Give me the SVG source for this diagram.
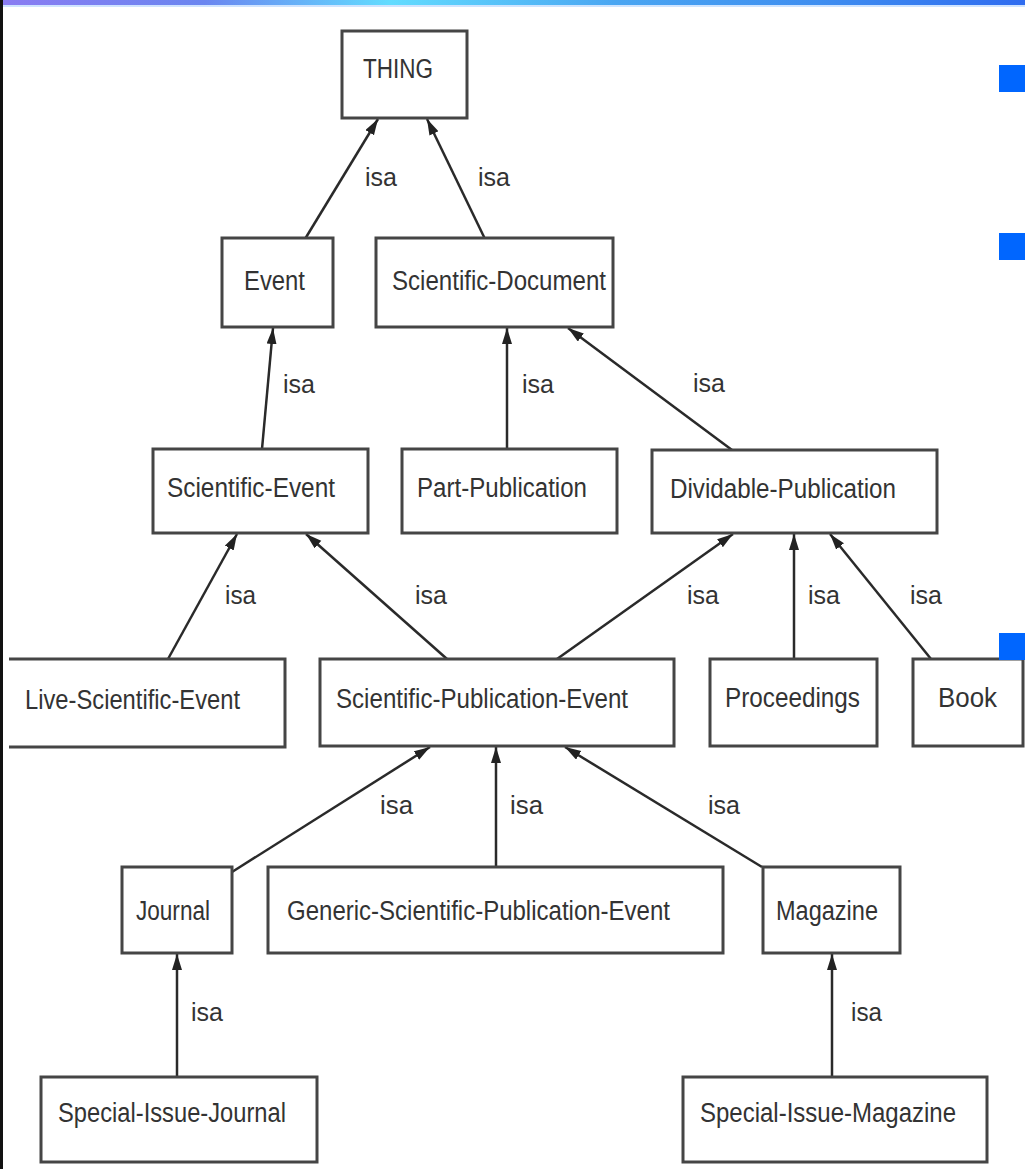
<svg xmlns="http://www.w3.org/2000/svg" width="1025" height="1169" viewBox="0 0 1025 1169">
  <defs>
    <linearGradient id="topbar" x1="0" y1="0" x2="1" y2="0">
      <stop offset="0" stop-color="#8a7cf2"/>
      <stop offset="0.2" stop-color="#6a86f0"/>
      <stop offset="0.38" stop-color="#62dcff"/>
      <stop offset="0.6" stop-color="#4aa6f2"/>
      <stop offset="0.8" stop-color="#3f8ef0"/>
      <stop offset="1" stop-color="#2f6cf0"/>
    </linearGradient>
    <marker id="head" markerUnits="userSpaceOnUse" markerWidth="18" markerHeight="12" refX="16" refY="5" orient="auto">
      <path d="M0,0 L16,5 L0,10 z" fill="#222"/>
    </marker>
    <style>
      .box { fill: #fff; stroke: #454545; stroke-width: 3; }
      .lbl { font-family: "Liberation Sans", Arial, sans-serif; font-size: 27px; fill: #333; }
      .isa { font-family: "Liberation Sans", Arial, sans-serif; font-size: 25px; fill: #333; }
      .link { stroke: #2a2a2a; stroke-width: 2.5; fill: none; marker-end: url(#head); }
      .bullet { fill: #0066ff; }
    </style>
  </defs>

  <!-- page frame -->
  <rect x="0" y="0" width="1025" height="1169" fill="#fff"/>
  <rect x="0" y="0" width="1025" height="5" fill="url(#topbar)"/>
  <rect x="0" y="5" width="1025" height="2" fill="#cfe4ff"/>
  <rect x="0" y="0" width="3" height="1169" fill="#111"/>

  <!-- connectors -->
  <g id="connectors">
    <line class="link" x1="305" y1="239" x2="378" y2="119"/>
    <line class="link" x1="485" y1="239" x2="427" y2="119"/>
    <line class="link" x1="262" y1="449" x2="273" y2="328"/>
    <line class="link" x1="507" y1="449" x2="507" y2="328"/>
    <line class="link" x1="732" y1="450" x2="568" y2="328"/>
    <line class="link" x1="168" y1="659" x2="237" y2="534"/>
    <line class="link" x1="447" y1="659" x2="306" y2="534"/>
    <line class="link" x1="557" y1="659" x2="733" y2="534"/>
    <line class="link" x1="794" y1="659" x2="794" y2="534"/>
    <line class="link" x1="931" y1="659" x2="830" y2="534"/>
    <line class="link" x1="232" y1="872" x2="430" y2="747"/>
    <line class="link" x1="496" y1="867" x2="496" y2="747"/>
    <line class="link" x1="762" y1="867" x2="565" y2="747"/>
    <line class="link" x1="177" y1="1077" x2="177" y2="954"/>
    <line class="link" x1="832" y1="1077" x2="832" y2="954"/>

    <text class="isa" x="365" y="186" textLength="32" lengthAdjust="spacingAndGlyphs">isa</text>
    <text class="isa" x="478" y="186" textLength="32" lengthAdjust="spacingAndGlyphs">isa</text>
    <text class="isa" x="283" y="393" textLength="32" lengthAdjust="spacingAndGlyphs">isa</text>
    <text class="isa" x="522" y="393" textLength="32" lengthAdjust="spacingAndGlyphs">isa</text>
    <text class="isa" x="693" y="392" textLength="32" lengthAdjust="spacingAndGlyphs">isa</text>
    <text class="isa" x="225" y="604" textLength="31" lengthAdjust="spacingAndGlyphs">isa</text>
    <text class="isa" x="415" y="604" textLength="32" lengthAdjust="spacingAndGlyphs">isa</text>
    <text class="isa" x="687" y="604" textLength="32" lengthAdjust="spacingAndGlyphs">isa</text>
    <text class="isa" x="808" y="604" textLength="32" lengthAdjust="spacingAndGlyphs">isa</text>
    <text class="isa" x="910" y="604" textLength="32" lengthAdjust="spacingAndGlyphs">isa</text>
    <text class="isa" x="380" y="814" textLength="33" lengthAdjust="spacingAndGlyphs">isa</text>
    <text class="isa" x="510" y="814" textLength="33" lengthAdjust="spacingAndGlyphs">isa</text>
    <text class="isa" x="708" y="814" textLength="32" lengthAdjust="spacingAndGlyphs">isa</text>
    <text class="isa" x="191" y="1021" textLength="32" lengthAdjust="spacingAndGlyphs">isa</text>
    <text class="isa" x="851" y="1021" textLength="31" lengthAdjust="spacingAndGlyphs">isa</text>
  </g>

  <!-- nodes -->
  <g id="thing">
    <rect class="box" x="342" y="31" width="125" height="87"/>
    <text class="lbl" x="363" y="78" textLength="70" lengthAdjust="spacingAndGlyphs">THING</text>
  </g>
  <g id="event">
    <rect class="box" x="222" y="238" width="111" height="89"/>
    <text class="lbl" x="244" y="290" textLength="61" lengthAdjust="spacingAndGlyphs">Event</text>
  </g>
  <g id="scientific-document">
    <rect class="box" x="376" y="238" width="237" height="89"/>
    <text class="lbl" x="392" y="290" textLength="214" lengthAdjust="spacingAndGlyphs">Scientific-Document</text>
  </g>
  <g id="scientific-event">
    <rect class="box" x="153" y="449" width="215" height="84"/>
    <text class="lbl" x="167" y="497" textLength="168" lengthAdjust="spacingAndGlyphs">Scientific-Event</text>
  </g>
  <g id="part-publication">
    <rect class="box" x="402" y="449" width="215" height="84"/>
    <text class="lbl" x="417" y="497" textLength="170" lengthAdjust="spacingAndGlyphs">Part-Publication</text>
  </g>
  <g id="dividable-publication">
    <rect class="box" x="652" y="450" width="285" height="83"/>
    <text class="lbl" x="670" y="498" textLength="226" lengthAdjust="spacingAndGlyphs">Dividable-Publication</text>
  </g>
  <g id="live-scientific-event">
    <path d="M9,659 H285 V747 H9" fill="#fff" stroke="#454545" stroke-width="3"/>
    <text class="lbl" x="25" y="709" textLength="215" lengthAdjust="spacingAndGlyphs">Live-Scientific-Event</text>
  </g>
  <g id="scientific-publication-event">
    <rect class="box" x="320" y="659" width="354" height="87"/>
    <text class="lbl" x="336" y="708" textLength="292" lengthAdjust="spacingAndGlyphs">Scientific-Publication-Event</text>
  </g>
  <g id="proceedings">
    <rect class="box" x="710" y="659" width="167" height="87"/>
    <text class="lbl" x="725" y="707" textLength="135" lengthAdjust="spacingAndGlyphs">Proceedings</text>
  </g>
  <g id="book">
    <rect class="box" x="913" y="659" width="110" height="87"/>
    <text class="lbl" x="938" y="707" textLength="59" lengthAdjust="spacingAndGlyphs">Book</text>
  </g>
  <g id="journal">
    <rect class="box" x="122" y="867" width="110" height="86"/>
    <text class="lbl" x="136" y="920" textLength="74" lengthAdjust="spacingAndGlyphs">Journal</text>
  </g>
  <g id="generic-scientific-publication-event">
    <rect class="box" x="268" y="867" width="455" height="86"/>
    <text class="lbl" x="287" y="920" textLength="383" lengthAdjust="spacingAndGlyphs">Generic-Scientific-Publication-Event</text>
  </g>
  <g id="magazine">
    <rect class="box" x="763" y="867" width="137" height="86"/>
    <text class="lbl" x="776" y="920" textLength="102" lengthAdjust="spacingAndGlyphs">Magazine</text>
  </g>
  <g id="special-issue-journal">
    <rect class="box" x="41" y="1077" width="276" height="85"/>
    <text class="lbl" x="58" y="1122" textLength="228" lengthAdjust="spacingAndGlyphs">Special-Issue-Journal</text>
  </g>
  <g id="special-issue-magazine">
    <rect class="box" x="683" y="1077" width="304" height="85"/>
    <text class="lbl" x="700" y="1122" textLength="256" lengthAdjust="spacingAndGlyphs">Special-Issue-Magazine</text>
  </g>

  <!-- slide bullets on the right edge -->
  <rect class="bullet" x="999" y="65" width="26" height="27"/>
  <rect class="bullet" x="999" y="233" width="26" height="27"/>
  <rect class="bullet" x="999" y="633" width="26" height="27"/>
</svg>
